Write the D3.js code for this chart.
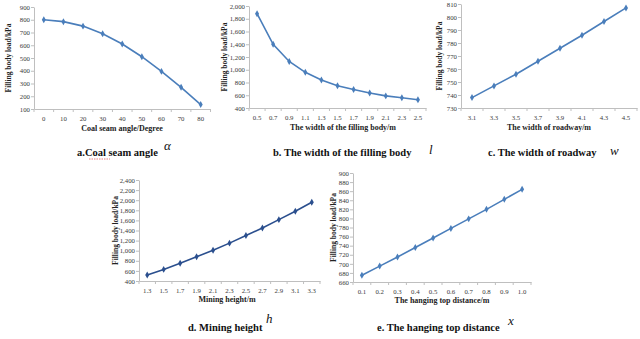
<!DOCTYPE html>
<html><head><meta charset="utf-8">
<script src="https://cdn.jsdelivr.net/npm/d3@7"></script>
<style>
body{margin:0;background:#fff;}
svg{display:block;}
text{font-family:"Liberation Serif","Times New Roman",serif;}
</style></head>
<body>
<svg id="c" width="640" height="339"></svg>
<script>
// ---- data ----
const catsA = ["0","10","20","30","40","50","60","70","80"];
const valsA = [800,785,750,690,610,510,395,270,135];
const ticksA = [100,200,300,400,500,600,700,800,900];

const catsB = ["0.5","0.7","0.9","1.1","1.3","1.5","1.7","1.9","2.1","2.3","2.5"];
const valsB = [1880,1400,1130,960,840,750,690,635,590,560,530];
const ticksB = [400,600,800,1000,1200,1400,1600,1800,2000];

const catsC = ["3.1","3.3","3.5","3.7","3.9","4.1","4.3","4.5"];
const valsC = [738,747,756,766,776,786,796.5,807];
const ticksC = [730,740,750,760,770,780,790,800,810];

const catsD = ["1.3","1.5","1.7","1.9","2.1","2.3","2.5","2.7","2.9","3.1","3.3"];
const valsD = [520,630,750,880,1010,1150,1300,1450,1615,1780,1960];
const ticksD = [400,600,800,1000,1200,1400,1600,1800,2000,2200,2400];

const catsE = ["0.1","0.2","0.3","0.4","0.5","0.6","0.7","0.8","0.9","1.0"];
const valsE = [675,695,715,736,757,778,799,820,842,864];
const ticksE = [660,680,700,720,740,760,780,800,820,840,860,880,900];

const yTitle = "Filling body load/kPa";
const xTitles = ["Coal seam angle/Degree","The width of the filling body/m","The width of roadway/m","Mining height/m","The hanging top distance/m"];
const captions = ["a.Coal seam angle","b. The width of the filling body","c. The width of roadway","d. Mining height","e. The hanging top distance"];
const symbols = ["\u03B1","l","w","h","x"];

// ---- layout ----
const panels = [
  {cats:catsA, vals:valsA, ticks:ticksA, x0:34, x1:210.5, yTop:7, yBot:109, color:"#4a7ebb",
   yTitleX:8, xTitleX:122, xTitleY:131, capX:77, capY:156, symX:164, symY:150, fmt:d3.format("d")},
  {cats:catsB, vals:valsB, ticks:ticksB, x0:249, x1:426, yTop:6, yBot:108, color:"#4a7ebb",
   yTitleX:224, xTitleX:343, xTitleY:130, capX:273, capY:156, symX:429, symY:154, fmt:d3.format(",")},
  {cats:catsC, vals:valsC, ticks:ticksC, x0:461, x1:637, yTop:4, yBot:108, color:"#4a7ebb",
   yTitleX:439, xTitleX:549, xTitleY:130, capX:488, capY:156, symX:610, symY:155, fmt:d3.format("d")},
  {cats:catsD, vals:valsD, ticks:ticksD, x0:139, x1:320, yTop:180, yBot:281, color:"#2b4f8e",
   yTitleX:115, xTitleX:227, xTitleY:302, capX:188, capY:331, symX:266, symY:323, fmt:d3.format(",")},
  {cats:catsE, vals:valsE, ticks:ticksE, x0:353, x1:531, yTop:173, yBot:282, color:"#4a7ebb",
   yTitleX:333, xTitleX:442, xTitleY:303, capX:377, capY:331, symX:508, symY:325, fmt:d3.format("d")}
];

const svg = d3.select("#c");
const axisCol = "#bfbfbf", labCol = "#3a3a3a";

panels.forEach((p,i)=>{
  const g = svg.append("g");
  const x = d3.scaleBand().domain(p.cats).range([p.x0,p.x1]);
  const y = d3.scaleLinear().domain([p.ticks[0], p.ticks[p.ticks.length-1]]).range([p.yBot,p.yTop]);

  // y axis
  const ya = g.append("g").attr("transform",`translate(${p.x0},0)`)
    .call(d3.axisLeft(y).tickValues(p.ticks).tickFormat(p.fmt).tickSize(3).tickSizeOuter(0));
  ya.select(".domain").attr("stroke",axisCol);
  ya.selectAll(".tick line").attr("stroke",axisCol);
  ya.selectAll(".tick text").attr("fill",labCol).attr("font-size",6.8).attr("x",-4)
    .style("font-family",'"Liberation Serif",serif');

  // x axis
  const xa = g.append("g").attr("transform",`translate(0,${p.yBot})`)
    .call(d3.axisBottom(x).tickSize(0).tickPadding(7));
  xa.select(".domain").attr("stroke",axisCol);
  xa.selectAll(".tick text").attr("fill",labCol).attr("font-size",6.8)
    .style("font-family",'"Liberation Serif",serif');
  // category boundary ticks
  const bounds = p.cats.map(c=>x(c)).concat([p.x1]);
  g.selectAll(".bt").data(bounds).join("line")
    .attr("x1",d=>d).attr("x2",d=>d).attr("y1",p.yBot).attr("y2",p.yBot+3)
    .attr("stroke",axisCol);

  // line
  const line = d3.line().x((d,j)=>x(p.cats[j])+x.bandwidth()/2).y(d=>y(d));
  g.append("path").datum(p.vals).attr("d",line).attr("fill","none")
    .attr("stroke",p.color).attr("stroke-width",1.6);
  g.selectAll(".m").data(p.vals).join("path")
    .attr("d",d3.symbol().type(d3.symbolDiamond).size(14))
    .attr("transform",(d,j)=>`translate(${x(p.cats[j])+x.bandwidth()/2},${y(d)})`)
    .attr("fill",p.color);

  // y title
  g.append("text").attr("transform",`translate(${p.yTitleX},${(p.yTop+p.yBot)/2}) rotate(-90)`)
    .attr("text-anchor","middle").attr("dominant-baseline","central")
    .attr("font-size",7.5).attr("font-weight","bold").attr("fill","#222").text(yTitle);
  // x title
  g.append("text").attr("x",p.xTitleX).attr("y",p.xTitleY).attr("text-anchor","middle")
    .attr("font-size",8).attr("font-weight","bold").attr("fill","#222").text(xTitles[i]);
  // caption
  g.append("text").attr("x",p.capX).attr("y",p.capY)
    .attr("font-size",10.5).attr("font-weight","bold").attr("fill","#111").text(captions[i]);
  g.append("text").attr("x",p.symX).attr("y",p.symY)
    .attr("font-size",13).attr("font-style","italic").attr("fill","#111").text(symbols[i]);
  if(i===0){
    // spell-check squiggle under "Coal"
    g.append("line").attr("x1",p.capX+12).attr("x2",p.capX+33).attr("y1",p.capY+3).attr("y2",p.capY+3)
      .attr("stroke","#e06060").attr("stroke-width",0.8).attr("stroke-dasharray","1.5,1");
  }
});
</script>
</body></html>
